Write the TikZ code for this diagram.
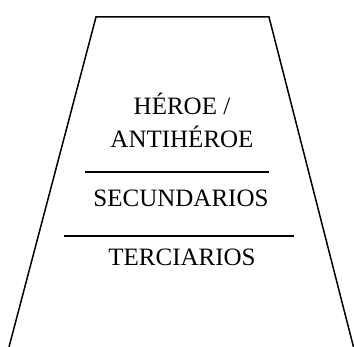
\documentclass[tikz,border=0pt]{standalone}
\usepackage{fontspec}
\setmainfont{Liberation Serif}
\usetikzlibrary{positioning,calc}

\begin{document}
\begin{tikzpicture}[x=1pt,y=1pt,
  rank/.style={font=\fontsize{25}{33}\selectfont,inner sep=0pt,align=center,anchor=base},
  wall/.style={line width=1.5pt,line join=miter},
  tier/.style={line width=1.5pt}]
\useasboundingbox (0,0) rectangle (354,347);
% the trapezoid, open at its foot
\coordinate (bl) at (9,0);
\coordinate (tl) at (96,330);
\coordinate (tr) at (269,330);
\coordinate (br) at (353.5,0);
\draw[wall] (bl) -- (tl) -- (tr) -- (br);
% ranks
\node[rank] (hero) at (182,199) {HÉROE /\\ANTIHÉROE};
\node[rank] (sec) at (181,140) {SECUNDARIOS};
\node[rank] (ter) at (182,81) {TERCIARIOS};
% dividers
\coordinate (d1l) at (85,175);  \coordinate (d1r) at (269,175);
\coordinate (d2l) at (64,111);  \coordinate (d2r) at (294,111);
\draw[tier] (d1l) -- (d1r);
\draw[tier] (d2l) -- (d2r);
\end{tikzpicture}
\end{document}
